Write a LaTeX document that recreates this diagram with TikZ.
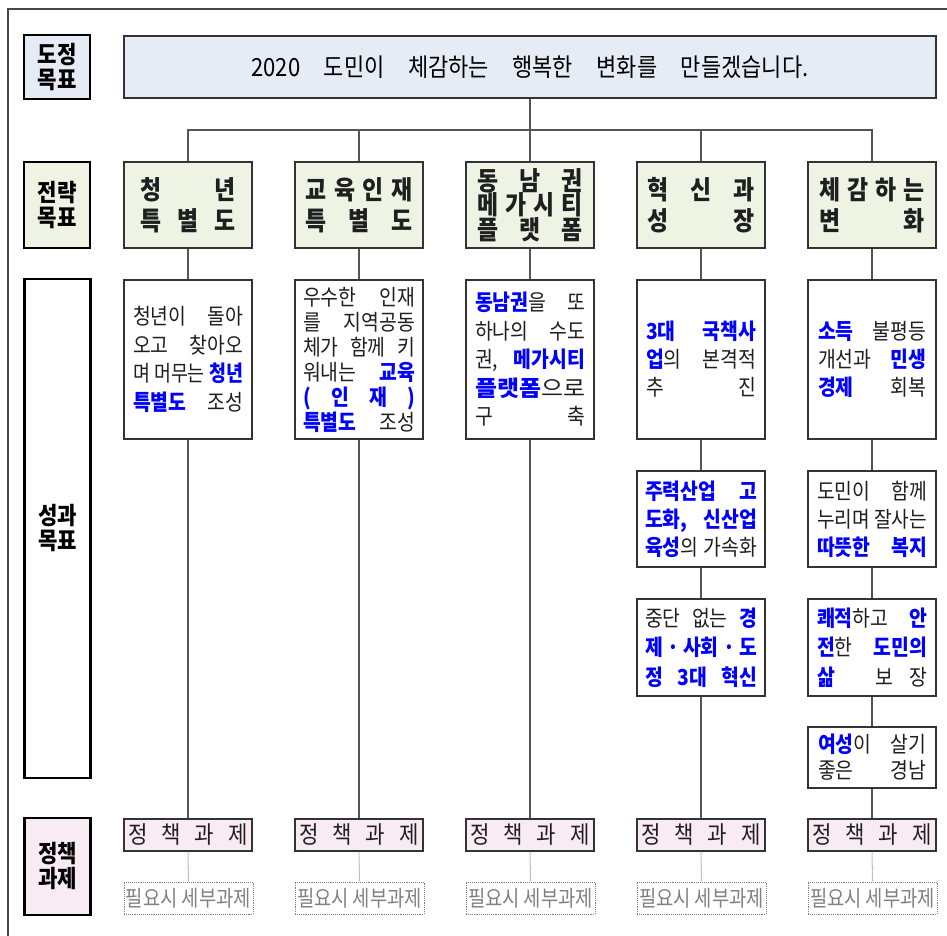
\documentclass[tikz,border=0pt]{standalone}
\usepackage{fontspec}
\usepackage{graphicx}
\setmainfont{Noto Sans CJK KR}
\newfontfamily\nar[FakeStretch=0.88]{Noto Sans CJK KR}
\definecolor{kblue}{RGB}{0,0,255}
\definecolor{tfill}{RGB}{229,236,246}
\definecolor{gfill}{RGB}{238,243,228}
\definecolor{pfill}{RGB}{248,235,243}
\definecolor{bord}{RGB}{51,51,51}
\definecolor{lnc}{RGB}{85,85,85}
\definecolor{dgray}{RGB}{128,128,128}
\definecolor{frm}{RGB}{70,70,70}
\newlength\JW
\newlength\JT
\newcommand\B[1]{{\bfseries\color{kblue}#1}}
\newcommand\JL[1]{{\spaceskip=.2em plus 1fil minus .05em\relax\settowidth\JT{#1}\ifdim\JT>\JW\resizebox{\JW}{\height}{#1}\else\makebox[\JW][s]{#1}\fi}}
\newcommand\JS[1]{\resizebox{\JW}{\height}{#1}}
\newcommand\JB[4]{\parbox[c]{#1pt}{\setlength\JW{#1pt}\lineskiplimit=-100pt\nar\fontsize{#2}{#3}\selectfont#4}}
\tikzset{
 box/.style={draw=bord, line width=1.1pt, inner sep=0pt, minimum width=128pt, text=black!88},
 strat/.style={box, fill=gfill, minimum height=86pt},
 perf/.style={box, fill=white},
 pol/.style={box, fill=pfill, minimum height=32pt},
 det/.style={draw=dgray, densely dotted, line width=.9pt, inner sep=0pt, minimum width=129pt, minimum height=32pt, text=dgray},
 lab/.style={draw=black, line width=2.4pt, inner sep=0pt, minimum width=66pt, align=center, font=\nar\bfseries\fontsize{24}{25}\selectfont},
 conn/.style={draw=lnc, line width=1.1pt},
 dconn/.style={draw=dgray, densely dotted, line width=1pt},
}
\begin{document}
\begin{tikzpicture}[x=1pt,y=-1pt]
\useasboundingbox (0,0) rectangle (947,936);
\draw[frm, line width=1.3pt] (8,936) -- (8,9) -- (947,9);
% labels
\node[lab, fill=tfill, minimum height=64pt] (L1) at (57,67) {도정\\목표};
\node[lab, fill=gfill, minimum height=86pt] (L2) at (57,205) {전략\\목표};
\node[lab, fill=white, minimum height=499pt] (L3) at (57.5,528.5) {성과\\목표};
\node[lab, fill=pfill, minimum height=97pt] (L4) at (57.5,866.5) {정책\\과제};
% title
\node[draw=bord, line width=1.3pt, fill=tfill, minimum width=812pt, minimum height=62pt, inner sep=0pt] (title) at (530,67)
  {\nar\fontsize{25}{28}\selectfont\makebox[557pt][s]{2020 도민이 체감하는 행복한 변화를 만들겠습니다.}};
% strategy
\node[strat] (s1) at (188,205) {\JB{96}{26}{31}{\bfseries\JL{청 년}\\\JL{특 별 도}}};
\node[strat] (s2) at (359,205) {\JB{107}{26}{31}{\bfseries\JL{교 육 인 재}\\\JL{특 별 도}}};
\node[strat] (s3) at (530,205) {\JB{105}{26}{24.5}{\bfseries\JL{동 남 권}\\\JL{메 가 시 티}\\\JL{플 랫 폼}}};
\node[strat] (s4) at (701,205) {\JB{107}{26}{31}{\bfseries\JL{혁 신 과}\\\JL{성 장}}};
\node[strat] (s5) at (872,205) {\JB{105}{26}{31}{\bfseries\JL{체 감 하 는}\\\JL{변 화}}};
% performance row 1
\node[perf, minimum height=159pt] (p1) at (188,359.5) {\JB{110}{22}{28.5}{\JL{청년이 돌아}\\\JL{오고 찾아오}\\\JL{며 머무는 \B{청년}}\\\JL{\B{특별도} 조성}}};
\node[perf, minimum height=159pt] (p2) at (359,359.5) {\JB{112}{22}{25}{\JL{우수한 인재}\\\JL{를 지역공동}\\\JL{체가 함께 키}\\\JL{워내는 \B{교육}}\\\JL{\B{( 인 재 )}}\\\JL{\B{특별도} 조성}}};
\node[perf, minimum height=159pt] (p3) at (530,359.5) {\JB{110}{22}{28.5}{\JL{\B{동남권}을 또}\\\JL{하나의 수도}\\\JL{권, \B{메가시티}}\\\JS{\B{플랫폼}으로}\\\JL{구 축}}};
\node[perf, minimum height=159pt] (p4) at (701,359.5) {\JB{110}{22}{28}{\JL{\B{3대 국책사}}\\\JL{\B{업}의 본격적}\\\JL{추 진}}};
\node[perf, minimum height=159pt] (p5) at (872,359.5) {\JB{108}{22}{28}{\JL{\B{소득} 불평등}\\\JL{개선과 \B{민생}}\\\JL{\B{경제} 회복}}};
% performance rows 2-4
\node[perf, minimum height=96pt] (p4b) at (701,519) {\JB{112}{22}{28}{\JL{\B{주력산업 고}}\\\JL{\B{도화, 신산업}}\\\JL{\B{육성}의 가속화}}};
\node[perf, minimum height=96pt] (p5b) at (872,519) {\JB{110}{22}{28}{\JL{도민이 함께}\\\JL{누리며 잘사는}\\\JL{\B{따뜻한 복지}}}};
\node[perf, minimum height=97pt] (p4c) at (701,647.5) {\JB{112}{22}{29.5}{\JL{중단 없는 \B{경}}\\\JL{\B{제\hfil·\hfil 사회\hfil·\hfil 도}}\\\JL{\B{정 3대 혁신}}}};
\node[perf, minimum height=97pt] (p5c) at (872,647.5) {\JB{110}{22}{29.5}{\JL{\B{쾌적}하고 \B{안}}\\\JL{\B{전}한 \B{도민의}}\\\JL{\B{삶}\hfil\hfil 보\hspace{.7em}장}}};
\node[perf, minimum height=61pt] (p5d) at (872,757.5) {\JB{108}{22}{26}{\JL{\B{여성}이 살기}\\\JL{좋은 경남}}};
% policy and detail boxes
\foreach \i/\x in {1/188,2/359,3/530,4/701,5/872}{
  \node[pol] (q\i) at (\x,835) {\nar\fontsize{24}{26}\selectfont\makebox[119pt][s]{정 책 과 제}};
  \node[det] (d\i) at (\x+0.5,898) {\nar\fontsize{22}{24}\selectfont\resizebox{125pt}{\height}{필요시 세부과제}};
}
% connectors
\coordinate (bus) at (530,130);
\draw[conn] (title.south) -- (bus);
\draw[conn] (s1.north) |- (bus) -| (s5.north);
\foreach \i in {2,3,4} \draw[conn] (s\i.north) -- (s\i.north |- bus);
\foreach \i in {1,2,3}{
  \draw[conn] (s\i.south) -- (p\i.north);
  \draw[conn] (p\i.south) -- (q\i.north);
}
\draw[conn] (s4.south) -- (p4.north);
\draw[conn] (p4.south) -- (p4b.north);
\draw[conn] (p4b.south) -- (p4c.north);
\draw[conn] (p4c.south) -- (q4.north);
\draw[conn] (s5.south) -- (p5.north);
\draw[conn] (p5.south) -- (p5b.north);
\draw[conn] (p5b.south) -- (p5c.north);
\draw[conn] (p5c.south) -- (p5d.north);
\draw[conn] (p5d.south) -- (q5.north);
\foreach \i in {1,...,5} \draw[dconn] (q\i.south) -- (d\i.north);
\end{tikzpicture}
\end{document}
